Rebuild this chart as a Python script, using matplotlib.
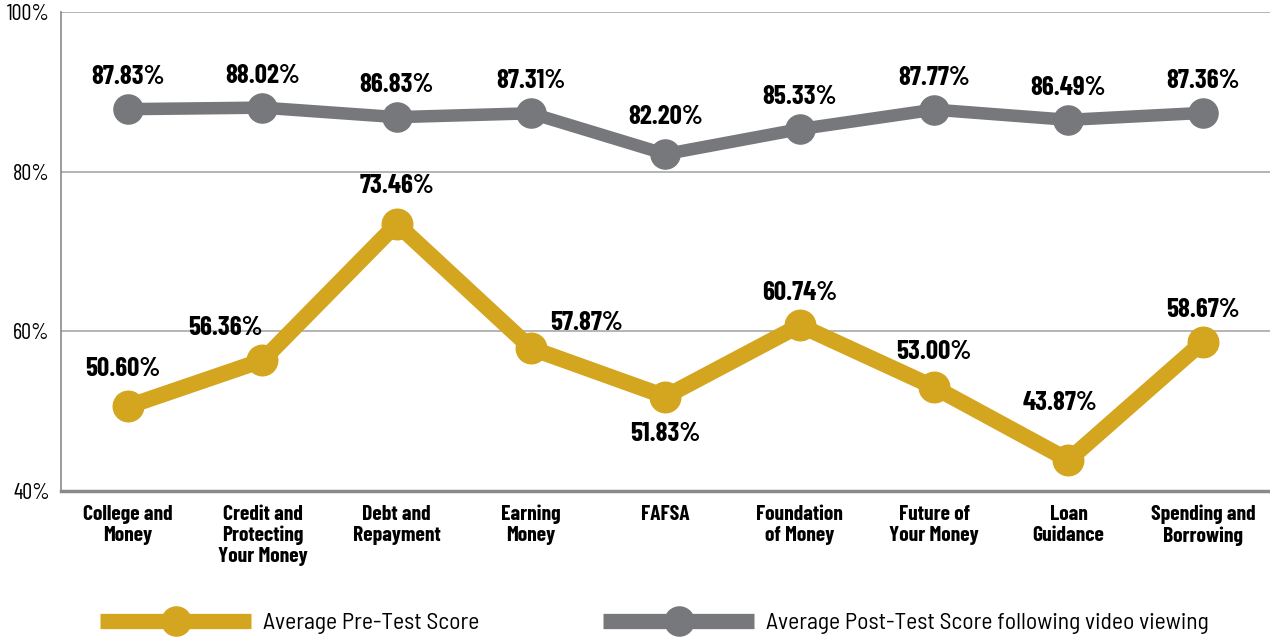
import matplotlib.pyplot as plt

# Data
topics = ["College and\nMoney", "Credit and\nProtecting\nYour Money", "Debt and\nRepayment",
          "Earning\nMoney", "FAFSA", "Foundation\nof Money", "Future of\nYour Money",
          "Loan\nGuidance", "Spending and\nBorrowing"]
pre_scores = [50.60, 56.36, 73.46, 57.87, 51.83, 60.74, 53.00, 43.87, 58.67]
post_scores = [87.83, 88.02, 86.83, 87.31, 82.20, 85.33, 87.77, 86.49, 87.36]
y_ticks = [40, 60, 80, 100]
# label offsets (points) for the value labels
pre_offsets = [(-4, 27), (-27, 23), (0, 27), (40, 18), (0, -27), (0, 23), (0, 25), (-6, 41), (0, 23)]
post_offsets = [(0, 23), (0, 23), (0, 23), (0, 23), (0, 27), (0, 23), (0, 23), (0, 23), (0, 23)]

gold = "#D4A51E"
gray = "#76787B"
cond = ["Barlow Condensed", "Liberation Sans", "DejaVu Sans"]
semi = ["Barlow Semi Condensed", "Liberation Sans", "DejaVu Sans"]

fig = plt.figure(figsize=(12.7, 6.38), dpi=100)
ax = fig.add_axes([0.048, 0.2304, 0.952, 0.7508])

x = list(range(len(topics)))
ax.plot(x, post_scores, color=gray, lw=9, marker="o", ms=21, solid_capstyle="round",
        solid_joinstyle="round", zorder=3)
ax.plot(x, pre_scores, color=gold, lw=11.5, marker="o", ms=22, solid_capstyle="round",
        solid_joinstyle="round", zorder=3)

for i, v in enumerate(post_scores):
    ax.annotate(f"{v:.2f}%", (i, v), xytext=post_offsets[i], textcoords="offset points",
                ha="center", va="center", fontsize=19.5, fontweight="bold", family=cond)
for i, v in enumerate(pre_scores):
    ax.annotate(f"{v:.2f}%", (i, v), xytext=pre_offsets[i], textcoords="offset points",
                ha="center", va="center", fontsize=19.5, fontweight="bold", family=cond)

ax.set_xlim(-0.5, 8.5)
ax.set_ylim(40, 100)
ax.set_yticks(y_ticks)
ax.set_yticklabels([f"{t}%" for t in y_ticks], family=cond, fontsize=16, va="center_baseline")
ax.set_xticks(x)
ax.set_xticklabels(topics, family=cond, fontsize=15.5, fontweight="bold", va="top", linespacing=1.12)
ax.tick_params(axis="y", length=0, pad=8)
ax.tick_params(axis="x", length=0, pad=10)
ax.grid(axis="y", color="#A8A8A8", lw=1.2)
ax.set_axisbelow(True)
for s in ["top", "right"]:
    ax.spines[s].set_visible(False)
ax.spines["left"].set_color("#8A8A8A")
ax.spines["left"].set_linewidth(1.2)
ax.spines["bottom"].set_color("#8A8A8A")
ax.spines["bottom"].set_linewidth(2.5)

# legend: two separate entries placed under the chart
h_pre, = ax.plot([], [], color=gold, lw=11, marker="o", ms=21, solid_capstyle="butt")
h_post, = ax.plot([], [], color=gray, lw=11, marker="o", ms=21, solid_capstyle="butt")
for h, lab, xpos in [(h_pre, "Average Pre-Test Score", 100 / 1270),
                     (h_post, "Average Post-Test Score following video viewing", 603 / 1270)]:
    leg = fig.legend([h], [lab], loc="center left", bbox_to_anchor=(xpos, 15 / 638),
                     frameon=False, handlelength=6.4, handletextpad=0.5, borderpad=0,
                     borderaxespad=0, prop={"family": semi, "size": 17})

fig.savefig("out.png", dpi=100)
